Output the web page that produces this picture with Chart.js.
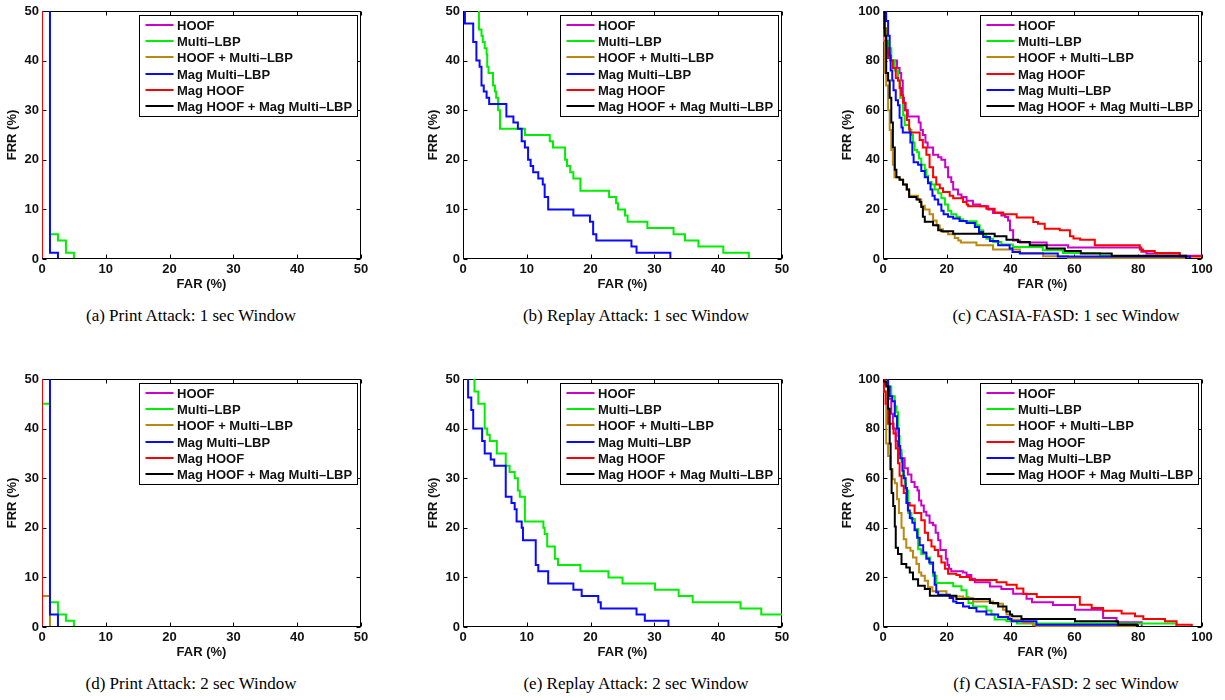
<!DOCTYPE html>
<html>
<head>
<meta charset="utf-8">
<script src="https://cdn.jsdelivr.net/npm/chart.js@4.4.0/dist/chart.umd.min.js"></script>
<style>
  html, body { margin: 0; padding: 0; background: #fff; }
  body { width: 1225px; height: 700px; position: relative; overflow: hidden; }
  canvas { position: absolute; }
  .cap { position: absolute; font-family: "Liberation Serif", "Times New Roman", serif; font-size: 17px;
         line-height: 20px; white-space: nowrap; transform: translateX(-50%); color: #000; }
</style>
</head>
<body>
<script>
// ---------------- tick labels ----------------
const xTicks50 = [0, 10, 20, 30, 40, 50];
const yTicks50 = [0, 10, 20, 30, 40, 50];
const xTicks100 = [0, 20, 40, 60, 80, 100];
const yTicks100 = [0, 20, 40, 60, 80, 100];

// ---------------- legend labels (series names) ----------------
const legendAB = ['HOOF', 'Multi–LBP', 'HOOF + Multi–LBP', 'Mag Multi–LBP', 'Mag HOOF', 'Mag HOOF + Mag Multi–LBP'];
const legendC  = ['HOOF', 'Multi–LBP', 'HOOF + Multi–LBP', 'Mag HOOF', 'Mag Multi–LBP', 'Mag HOOF + Mag Multi–LBP'];

const captions = ['(a) Print Attack: 1 sec Window', '(b) Replay Attack: 1 sec Window', '(c) CASIA-FASD: 1 sec Window',
                  '(d) Print Attack: 2 sec Window', '(e) Replay Attack: 2 sec Window', '(f) CASIA-FASD: 2 sec Window'];

// ---------------- series: [FAR, FRR] step corners ----------------
// (a) Print Attack 1 sec
const a_hoof      = [[0,100],[0,0],[50,0]];
const a_mlbp      = [[1.25,100],[1.25,5],[2.5,3.75],[3.75,1.25],[5,0],[50,0]];
const a_hoofmlbp  = [[0,100],[0,0],[50,0]];
const a_magmlbp   = [[1.25,100],[1.25,1.25],[2.5,0],[50,0]];
const a_maghoof   = [[0,100],[0,0],[50,0]];
const a_magfusion = [[0,0],[50,0]];

// (b) Replay Attack 1 sec
const b_hoof      = [[0,100],[0,0],[50,0]];
const b_mlbp      = [[2.5,100],[2.5,46.25],[2.9,45],[3.1,43.75],[3.4,42.5],[3.7,41.25],[3.8,38.75],[4.0,37.5],[4.7,35],[5.0,33.75],[5.2,32.5],[5.5,30],[5.8,26.25],[9.7,25],[13.6,23.75],[14.1,22.5],[16.0,20],[16.3,18.75],[16.8,17.5],[17.3,16.25],[18.4,13.75],[22.9,12.5],[24.0,11.25],[24.3,10],[25.4,8.75],[25.8,7.5],[28.9,6.25],[33.0,5],[34.8,3.75],[36.9,2.5],[40.8,1.25],[44.8,0],[50,0]];
const b_hoofmlbp  = [[0,100],[0,0],[50,0]];
const b_magmlbp   = [[0.3,100],[0.3,47.5],[1.6,43.75],[2.1,40],[2.6,38.75],[2.9,35],[3.25,33.75],[3.7,32.5],[4.1,31.25],[6.8,28.75],[7.9,27.5],[8.6,26.25],[9.2,23.75],[9.7,22.5],[10.2,20],[10.6,18.75],[11.0,17.5],[11.8,16.25],[12.5,15],[12.8,12.5],[13.35,10],[17.3,8.75],[19.9,7.5],[20.4,5],[20.9,3.75],[26.4,2.5],[27.2,1.25],[32.5,0],[50,0]];
const b_maghoof   = [[0,100],[0,0],[50,0]];
const b_magfusion = [[0,100],[0,0],[50,0]];

// (c) CASIA-FASD 1 sec
const c_hoof      = [[0.5,100],[0.5,92],[1.0,86],[1.5,83],[2.5,80],[4.4,77],[5.2,75],[5.7,72],[6.2,65],[6.6,60],[7.8,57.5],[11.2,55],[11.8,52],[12.5,50],[13.3,47],[14.0,45],[15.7,42],[17.3,41],[18.3,40],[19.5,37],[20.4,33],[21.4,31],[22.0,28],[23.5,26],[24.6,25],[26.2,23.5],[28.2,22],[30.5,21.3],[33.0,20],[34.5,18.5],[37.1,17.5],[38.3,16.9],[39.2,15.5],[39.8,11.6],[40.8,7.5],[42.9,6.7],[51.3,5.5],[58.0,4.6],[81.0,2.9],[82.6,2.2],[93.0,1.3],[100,1.3]];
const c_mlbp      = [[0.5,100],[0.5,93],[1,88],[1.6,85],[2.6,80],[3.7,76],[4.7,72],[5.4,65],[6.3,58],[6.8,54],[8.2,52],[8.9,50],[9.4,47],[9.9,44],[10.7,43],[11.3,40.5],[12,38],[13.1,36],[13.6,33.5],[14.1,31],[15.2,30],[16.2,28],[17.3,26.5],[18.3,24.5],[19.4,22],[20.4,19.5],[21.4,18],[23,17],[24.1,16],[25.1,15.2],[29.3,13.6],[30.3,11.6],[31.4,9.8],[32.4,8.2],[34.5,6.9],[37.1,5.8],[40.7,4.8],[50.1,3.5],[56.4,2.4],[68,1.2],[95,0],[100,0]];
const c_hoofmlbp  = [[0,100],[0,88],[0.5,75],[1,70],[1.6,60],[2.1,52],[2.6,44],[3.1,38],[3.6,33],[5.2,32],[6.3,30],[7.3,28],[8.2,25.5],[11,24],[12,21.5],[13.1,20],[14.6,18],[15.7,15.5],[16.8,13.5],[17.8,12],[18.8,11],[20.4,10],[22.5,8.5],[23.6,7.5],[24.4,6.7],[29.3,5.5],[34.5,3.8],[42.9,2.4],[50.2,1.1],[58,0.4],[95,0],[100,0]];
const c_maghoof   = [[0.3,100],[0.3,93],[0.8,88],[1.2,85],[1.6,81],[2.3,80],[3.1,77],[4,73],[4.7,72],[5.2,69],[5.7,66],[6.3,63],[7.1,60],[7.5,56],[8.2,52.5],[8.4,51],[11.5,48],[12.5,45],[13.6,42],[14.6,37],[15.7,33],[16.7,30],[17.8,28.5],[18.8,27],[20.9,25.5],[22,24.5],[25.1,23],[26.2,22],[26.7,21.3],[32.4,20.3],[35,18.8],[37.7,18],[41.9,16.7],[47.1,14.9],[48.6,14.2],[50.7,12.2],[55.4,11.6],[58.6,9.2],[59.7,8.3],[61.8,7.8],[66.4,5.5],[80.5,3.8],[81.5,3.2],[85.2,2.4],[93,1],[100,1]];
const c_magmlbp   = [[1,100],[1,96],[1.6,90],[2.1,82],[2.4,76],[2.9,72],[3.3,68],[4,64],[4.7,62],[5.2,57],[5.8,53],[6.2,51],[8.6,47],[9.2,42],[9.6,39],[11,38],[12,35.5],[13.1,33],[14.1,30.5],[14.9,28],[15.5,25.5],[16.2,24],[17.3,22],[18.3,19.5],[19,18],[20.4,17],[22,16.3],[24,15.3],[26.2,14.5],[28.8,12.9],[30.1,10.9],[31.4,8.9],[33.5,7.3],[36.1,5.5],[39.7,4.2],[40.6,2.8],[42.9,2.2],[54.8,1],[96.2,0],[100,0]];
const c_magfusion = [[0.5,100],[0.5,90],[1,75],[1.6,72],[2.1,65],[2.6,55],[3.1,45],[3.7,36],[4.2,33],[5.2,32],[6.3,30],[7.5,28],[8.2,25],[10.5,24],[11.5,23],[12,21],[12.5,17],[13.1,15],[15.7,13.6],[17.3,11.6],[18.3,11.2],[22,10.2],[35,9.2],[38.7,7.8],[42.3,6.9],[46,5.5],[51.3,4.2],[57,3.2],[62,2.2],[71.7,1.3],[95,0],[100,0]];

// (d) Print Attack 2 sec
const d_hoof      = [[0,100],[0,0],[50,0]];
const d_mlbp      = [[0,100],[0,45],[1.25,5],[2.5,2.5],[3.75,1.25],[5,0],[50,0]];
const d_hoofmlbp  = [[0,100],[0,6.25],[1.25,0],[50,0]];
const d_magmlbp   = [[1.25,100],[1.25,2.5],[2.5,0],[50,0]];
const d_maghoof   = [[0,100],[0,0],[50,0]];
const d_magfusion = [[0,0],[50,0]];

// (e) Replay Attack 2 sec
const e_hoof      = [[0,100],[0,0],[50,0]];
const e_mlbp      = [[1.8,100],[1.8,47.5],[2.4,45],[3.4,40],[3.8,38.75],[4.2,37.5],[5.3,35],[6.7,32.5],[7.3,31.25],[8.1,30],[8.6,27.5],[8.9,26.25],[9.7,21.25],[12.6,20],[12.8,18.75],[13.2,16.25],[14.4,13.75],[14.9,12.5],[18.4,11.25],[22.8,10],[25,8.75],[30.1,7.5],[33.8,6.25],[36,5],[43.5,3.75],[46.75,2.5],[50,2.5]];
const e_hoofmlbp  = [[0,100],[0,0],[50,0]];
const e_magmlbp   = [[0.8,100],[0.8,46.25],[1.3,43.75],[1.6,40],[3.0,37.5],[3.4,35],[4.35,33.75],[4.9,32.5],[6.7,26.25],[7.6,25],[8.1,23.75],[8.4,21.25],[9.2,20],[9.4,17.5],[11.4,12.5],[11.8,11.25],[13.35,8.75],[17.3,7.5],[18.6,6.25],[21.2,5],[21.6,3.75],[27.2,2.5],[28.5,1.25],[32.2,0],[50,0]];
const e_maghoof   = [[0,100],[0,0],[50,0]];
const e_magfusion = [[0,100],[0,0],[50,0]];

// (f) CASIA-FASD 2 sec
const f_hoof      = [[0.5,100],[0.5,98],[1.6,92],[2.6,86],[3.1,80],[4,75],[4.7,70],[5.8,68],[6.8,64],[7.8,61.5],[8.9,58.5],[9.9,56.5],[10.8,55],[11.3,51],[12,49],[12.8,46.5],[13.6,45],[14.6,42],[15.7,41],[16.5,38],[17.3,35],[18,31],[19.7,27.5],[20.2,25],[20.7,23.5],[21.4,22.5],[25.1,22],[26.2,21],[27.7,19.5],[28.8,18],[33.5,16.3],[37.1,15.3],[40.8,13.4],[45,11.4],[46.7,10],[53.3,8.9],[60.2,7],[69,3.6],[73.2,1.9],[81.1,0],[100,0]];
const f_mlbp      = [[1.6,100],[1.6,97],[2.6,93],[3.7,89],[4.2,86.6],[4.7,77],[5.2,71.5],[5.8,66.6],[6.3,61],[6.8,58],[7.1,55],[7.9,46],[8.9,43.5],[10,39.5],[11,31.4],[12,29.4],[13.6,28],[14.7,25.4],[15.7,20.7],[16.7,17.7],[22,16.4],[24.6,14.8],[26.2,12.1],[26.8,9.7],[28.2,8.3],[32.4,6.7],[34,5],[35,3],[38.7,2.3],[42,1.4],[92,0],[100,0]];
const f_hoofmlbp  = [[0,100],[0,95],[1,74],[1.6,69],[2.3,63.6],[3,59.6],[3.7,58],[4.4,51.5],[5,46],[5.8,40],[6.5,35.4],[7.3,32],[8.6,30.7],[9.4,28],[10.5,25.4],[11.3,22],[12,20.7],[13.1,18.6],[14.1,16],[15.5,14.4],[19.9,13],[21,12.3],[25.1,11.7],[28.2,10.3],[34.5,9.4],[37.6,7],[38.7,5],[39.8,2.9],[43.9,1.6],[47,0.7],[48.1,0.3],[79.6,0],[100,0]];
const f_maghoof   = [[0.3,100],[0.3,95],[0.8,90],[1.6,82],[3.3,78],[4,72],[4.7,66],[5.2,61],[5.8,57],[6.5,54],[7.3,50],[8.4,49],[9.9,46],[12,43],[13.1,38],[14.1,35],[15.2,32.5],[16.2,31],[17.3,28.5],[18.3,26],[19.4,23.5],[20.4,21.5],[23,21],[24.1,20.2],[27.2,19],[35.6,18],[38.7,17],[41.9,15.5],[44,13.3],[48.2,12.1],[61.7,9],[65.4,7.7],[69,6.6],[74.8,5.4],[79,4.3],[81.6,3.2],[88.4,2.3],[92,0.9],[96.8,0],[100,0]];
const f_magmlbp   = [[1.6,100],[1.6,97],[2.1,93],[2.9,91],[3.7,85],[4.4,80],[5,73],[5.4,68],[6.1,63],[6.5,60],[7.1,56],[7.5,50],[7.8,47],[8.4,44],[9.2,42],[9.9,39],[10.7,36],[11.5,33],[12.6,30],[13.6,27.5],[14.5,26],[15.7,22],[16.2,17],[16.7,14],[17.3,13],[20.9,11.7],[22,10.3],[23,9.7],[25.1,8.3],[27,7.7],[29.3,6.3],[32.4,5],[36.1,4],[39.2,3.2],[40.3,2.3],[48.1,0.9],[79.6,0],[100,0]];
const f_magfusion = [[0,100],[0,99],[1,97],[1.6,88],[2.1,74],[2.4,63.6],[2.7,54],[3.2,48.8],[3.7,40.5],[4,32],[4.7,29.4],[5.8,25.4],[7.3,24],[8.4,22],[9.4,19.3],[11,16.6],[13.1,15.3],[14.7,12.6],[23,11.3],[33.5,9.7],[36.1,8.3],[38.7,6.3],[39.8,5],[40.5,4.3],[43.4,3.2],[60.2,2.3],[73.7,0.9],[79.6,0],[100,0]];

// ---------------- styles ----------------
const colorMap = {
  'HOOF': '#cc00cc',
  'Multi–LBP': '#00ee00',
  'HOOF + Multi–LBP': '#bb8811',
  'Mag Multi–LBP': '#0a0aff',
  'Mag HOOF': '#ff0000',
  'Mag HOOF + Mag Multi–LBP': '#000000'
};
const FONT = '"Liberation Sans", Arial, Helvetica, sans-serif';
const colLeft = [42, 463, 883];
const rowTop = [11, 379];
const capX = [191, 636, 1066];
const capY = [306, 674];
const PW = 319, PH = 248, AXW = 45, AXH = 36, PADT = 11, PADR = 15;

const panels = [
  {col:0,row:0,xmax:50, ymax:50, xt:xTicks50, yt:yTicks50, legend:legendAB, series:[a_hoof,a_mlbp,a_hoofmlbp,a_magmlbp,a_maghoof,a_magfusion]},
  {col:1,row:0,xmax:50, ymax:50, xt:xTicks50, yt:yTicks50, legend:legendAB, series:[b_hoof,b_mlbp,b_hoofmlbp,b_magmlbp,b_maghoof,b_magfusion]},
  {col:2,row:0,xmax:100,ymax:100,xt:xTicks100,yt:yTicks100,legend:legendC, series:[c_hoof,c_mlbp,c_hoofmlbp,c_maghoof,c_magmlbp,c_magfusion]},
  {col:0,row:1,xmax:50, ymax:50, xt:xTicks50, yt:yTicks50, legend:legendAB, series:[d_hoof,d_mlbp,d_hoofmlbp,d_magmlbp,d_maghoof,d_magfusion]},
  {col:1,row:1,xmax:50, ymax:50, xt:xTicks50, yt:yTicks50, legend:legendAB, series:[e_hoof,e_mlbp,e_hoofmlbp,e_magmlbp,e_maghoof,e_magfusion]},
  {col:2,row:1,xmax:100,ymax:100,xt:xTicks100,yt:yTicks100,legend:legendC, series:[f_hoof,f_mlbp,f_hoofmlbp,f_maghoof,f_magmlbp,f_magfusion]}
];

// frame + inward tick marks (drawn beneath the data, like MATLAB's default layer)
const framePlugin = {
  id: 'frame',
  beforeDatasetsDraw(chart) {
    const {ctx, chartArea: a, scales: {x, y}} = chart;
    ctx.save();
    ctx.strokeStyle = '#000';
    ctx.lineWidth = 1;
    ctx.beginPath();
    const L = Math.round(a.left) + 0.5, R = Math.round(a.right) - 0.5;
    const T = Math.round(a.top) + 0.5, B = Math.round(a.bottom) - 0.5;
    x.ticks.forEach(t => {
      const px = Math.round(x.getPixelForValue(t.value)) + 0.5;
      ctx.moveTo(px, B); ctx.lineTo(px, B - 4);
      ctx.moveTo(px, T); ctx.lineTo(px, T + 4);
    });
    y.ticks.forEach(t => {
      const py = Math.round(y.getPixelForValue(t.value)) + 0.5;
      ctx.moveTo(L, py); ctx.lineTo(L + 4, py);
      ctx.moveTo(R, py); ctx.lineTo(R - 4, py);
    });
    ctx.rect(L, T, R - L, B - T);
    ctx.stroke();
    ctx.restore();
  }
};

// boxed legend inside the plot (MATLAB "NorthEast")
const boxLegend = {
  id: 'boxLegend',
  afterDraw(chart) {
    const {ctx, chartArea: a} = chart;
    const w = 218, h = 101;
    const bx = Math.round(a.right - 4.5 - w), by = Math.round(a.top + 4);
    ctx.save();
    ctx.fillStyle = '#fff';
    ctx.fillRect(bx, by, w, h);
    ctx.strokeStyle = '#000';
    ctx.lineWidth = 1;
    ctx.strokeRect(bx + 0.5, by + 0.5, w, h);
    ctx.font = 'bold 13px ' + FONT;
    ctx.textBaseline = 'middle';
    ctx.textAlign = 'left';
    chart.data.datasets.forEach((ds, i) => {
      const cy = Math.round(by + 9.6 + i * 16.3);
      ctx.strokeStyle = ds.borderColor;
      ctx.lineWidth = 2;
      ctx.beginPath();
      ctx.moveTo(bx + 6.5, cy);
      ctx.lineTo(bx + 34.5, cy);
      ctx.stroke();
      ctx.fillStyle = '#111';
      ctx.fillText(ds.label, bx + 38, cy + 1);
    });
    ctx.restore();
  }
};

const tickFont = {family: FONT, size: 13, weight: 'bold'};

panels.forEach((p, k) => {
  const cv = document.createElement('canvas');
  const W = AXW + PW + PADR, H = PADT + PH + AXH;
  cv.width = W; cv.height = H;
  cv.style.width = W + 'px'; cv.style.height = H + 'px';
  cv.style.left = (colLeft[p.col] - AXW) + 'px';
  cv.style.top = (rowTop[p.row] - PADT) + 'px';
  document.body.appendChild(cv);

  const n = p.series.length;
  const datasets = p.series.map((s, i) => ({
    label: p.legend[i],
    data: s.map(pt => ({x: pt[0], y: pt[1]})),
    borderColor: colorMap[p.legend[i]],
    backgroundColor: colorMap[p.legend[i]],
    borderWidth: 2,
    pointRadius: 0,
    pointHoverRadius: 0,
    stepped: 'before',
    fill: false,
    order: n - i
  }));

  new Chart(cv, {
    type: 'line',
    data: {datasets},
    options: {
      responsive: false,
      animation: false,
      devicePixelRatio: 1,
      events: [],
      layout: {padding: {top: PADT, right: PADR, left: 0, bottom: 0}},
      plugins: {legend: {display: false}, tooltip: {enabled: false}},
      scales: {
        x: {
          type: 'linear', min: 0, max: p.xmax,
          afterBuildTicks: s => { s.ticks = p.xt.map(v => ({value: v})); },
          afterFit: s => { s.height = AXH; s.paddingLeft = 0; s.paddingRight = 0; },
          grid: {display: false, drawTicks: false},
          border: {display: false},
          ticks: {font: tickFont, color: '#111', padding: 3, maxRotation: 0, autoSkip: false},
          title: {display: true, text: 'FAR (%)', font: tickFont, color: '#111', padding: {top: 0, bottom: 3}}
        },
        y: {
          type: 'linear', min: 0, max: p.ymax,
          afterBuildTicks: s => { s.ticks = p.yt.map(v => ({value: v})); },
          afterFit: s => { s.width = AXW; s.paddingTop = 0; s.paddingBottom = 0; },
          grid: {display: false, drawTicks: false},
          border: {display: false},
          ticks: {font: tickFont, color: '#111', padding: 3, autoSkip: false},
          title: {display: true, text: 'FRR (%)', font: tickFont, color: '#111', padding: {top: p.col === 2 ? 2 : 8, bottom: 0}}
        }
      }
    },
    plugins: [framePlugin, boxLegend]
  });

  const cap = document.createElement('div');
  cap.className = 'cap';
  cap.textContent = captions[k];
  cap.style.left = capX[p.col] + 'px';
  cap.style.top = capY[p.row] + 'px';
  document.body.appendChild(cap);
});
</script>
</body>
</html>
